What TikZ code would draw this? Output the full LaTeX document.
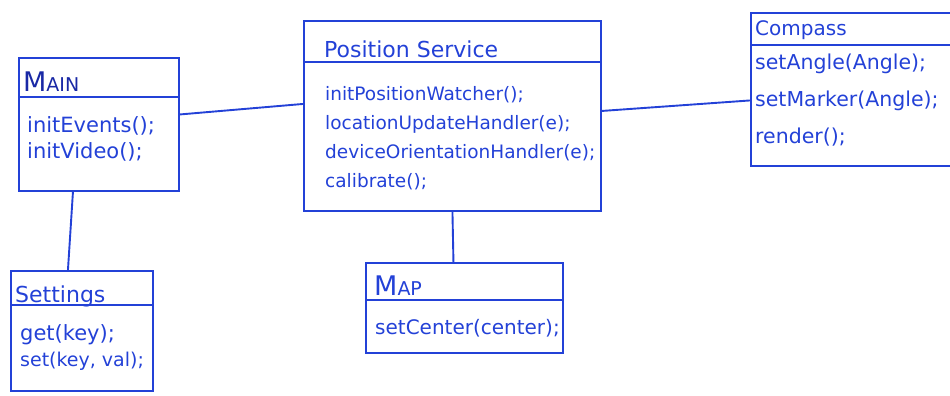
\documentclass[tikz,border=0pt]{standalone}
\usepackage{fontspec}
\setmainfont{DejaVu Sans}
\usetikzlibrary{arrows.meta,positioning,calc}
\definecolor{ink}{RGB}{35,65,215}
\definecolor{inkdark}{RGB}{25,40,165}

\begin{document}
\begin{tikzpicture}[x=1pt,y=-1pt,
    classbox/.style={draw=ink,line width=1.9pt,rectangle,inner sep=0pt,anchor=north west},
    cname/.style={text=ink,anchor=base west,inner sep=0pt},
    ops/.style={text=ink,anchor=north west,inner sep=0pt,align=left},
    link/.style={ink,line width=1.9pt}]

    \useasboundingbox (0,0) rectangle (950,396);

    % Class boxes
    \node[classbox,minimum width=160,minimum height=133] (main) at (18,57) {};
    \node[classbox,minimum width=297,minimum height=190] (service) at (303,20) {};
    \node[classbox,minimum width=210,minimum height=153] (compass) at (750,12) {};
    \node[classbox,minimum width=142,minimum height=120] (settings) at (10,270) {};
    \node[classbox,minimum width=197,minimum height=90] (map) at (365,262) {};

    % Title dividers
    \draw[link] ($(main.north west)+(0,40)$) -- ($(main.north east)+(0,40)$);
    \draw[link] ($(service.north west)+(0,42)$) -- ($(service.north east)+(0,42)$);
    \draw[link] ($(compass.north west)+(0,33)$) -- ($(compass.north east)+(0,33)$);
    \draw[link] ($(settings.north west)+(0,35)$) -- ($(settings.north east)+(0,35)$);
    \draw[link] ($(map.north west)+(0,38)$) -- ($(map.north east)+(0,38)$);

    % Class names
    \node[cname,text=inkdark,font=\fontsize{27}{30}\selectfont] (mainname)
        at ($(main.north west)+(5,34)$) {M{\fontsize{19}{22}\selectfont AIN}};
    \node[cname,font=\fontsize{22}{26}\selectfont] (servicename)
        at ($(service.north west)+(21,37)$) {Position Service};
    \node[cname,font=\fontsize{20}{24}\selectfont] (compassname)
        at ($(compass.north west)+(5,24)$) {Compass};
    \node[cname,font=\fontsize{22}{26}\selectfont] (settingsname)
        at ($(settings.north west)+(5,32)$) {Settings};
    \node[cname,font=\fontsize{27}{30}\selectfont] (mapname)
        at ($(map.north west)+(9,33)$) {M{\fontsize{19}{22}\selectfont AP}};

    % Operations
    \node[ops,font=\fontsize{21}{26}\selectfont] (mainops)
        at ($(main.north west)+(9,59)$) {initEvents();\\initVideo();};
    \node[ops,font=\fontsize{18.5}{29}\selectfont] (serviceops)
        at ($(service.north west)+(22,66)$)
        {initPositionWatcher();\\locationUpdateHandler(e);\\deviceOrientationHandler(e);\\calibrate();};
    \node[ops,font=\fontsize{20.5}{37}\selectfont] (compassops)
        at ($(compass.north west)+(5,42)$) {setAngle(Angle);\\setMarker(Angle);\\render();};
    \node[ops,font=\fontsize{19}{26}\selectfont] (settingsops)
        at ($(settings.north west)+(10,54)$) {{\fontsize{21}{26}\selectfont get(key);}\\set(key, val);};
    \node[ops,font=\fontsize{20}{24}\selectfont] (mapops)
        at ($(map.north west)+(10,57)$) {setCenter(center);};

    % Associations
    \draw[link] ([yshift=10pt]main.east) -- ([yshift=12pt]service.west);
    \draw[link] ([yshift=5pt]service.east) -- ([yshift=-11pt]compass.west);
    \draw[link] ([xshift=-26pt]main.south) -- ([xshift=-14pt]settings.north);
    \draw[link] (service.south) -- ([xshift=-11pt]map.north);

\end{tikzpicture}
\end{document}
